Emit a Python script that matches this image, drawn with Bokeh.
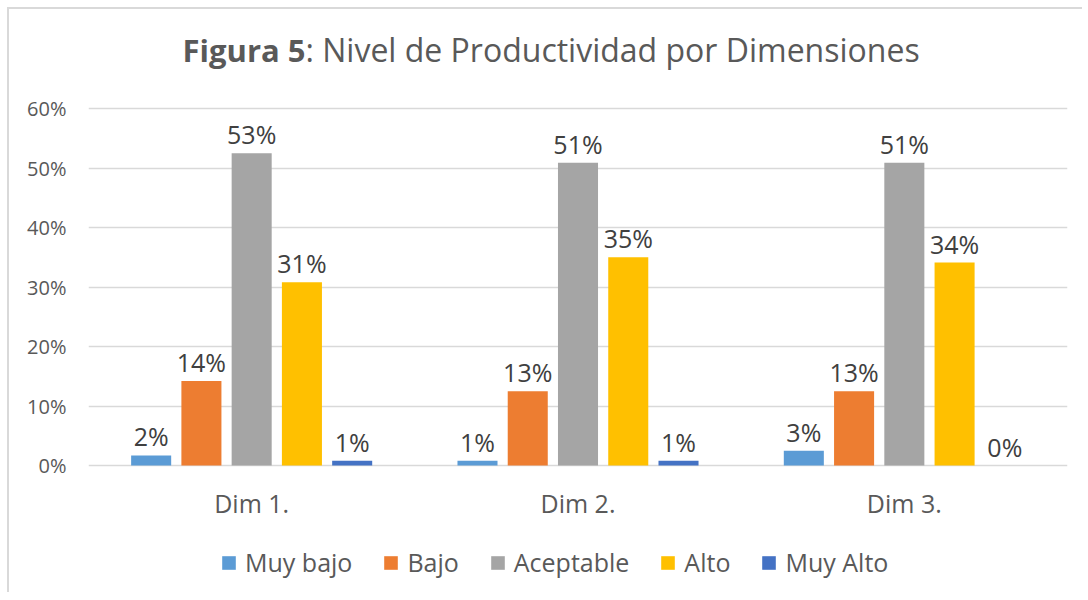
from bokeh.plotting import figure
from bokeh.models import (ColumnDataSource, FactorRange, FixedTicker, PrintfTickFormatter,
                          Label, Legend, LegendItem)
from bokeh.transform import dodge
from bokeh.core.properties import value
from bokeh.embed import file_html
from bokeh.resources import INLINE

dims = ["Dim 1.", "Dim 2.", "Dim 3."]
series = ["Muy bajo", "Bajo", "Aceptable", "Alto", "Muy Alto"]
muy_bajo = [1.7, 0.8, 2.5]
bajo = [14.2, 12.5, 12.5]
aceptable = [52.5, 50.9, 50.9]
alto = [30.8, 35.0, 34.1]
muy_alto = [0.8, 0.8, 0.0]
colors = ["#5B9BD5", "#ED7D31", "#A5A5A5", "#FFC000", "#4472C4"]
y_ticks = [0, 10, 20, 30, 40, 50, 60]

FONT = "Open Sans"
W, H = 1075, 585
OFF = 9                       # css margin + border
FRAME_L, FRAME_R = 88, 1067   # page px
Y0_PX, Y60_PX = 465, 108      # page px of 0% and 60%
px_per_unit = (Y0_PX - Y60_PX) / 60.0
frame_top, frame_bot = OFF, OFF + H
y_top = (Y0_PX - frame_top) / px_per_unit
y_bot = -(frame_bot - Y0_PX) / px_per_unit

p = figure(x_range=FactorRange(factors=dims), y_range=(y_bot, y_top),
           width=W, height=H, output_backend="svg", toolbar_location=None,
           min_border_left=FRAME_L - OFF, min_border_right=W - (FRAME_R - OFF),
           min_border_top=0, min_border_bottom=0)
p.styles = {"border-top": "2px solid #d9d9d9", "border-left": "2px solid #d9d9d9",
            "margin-top": "7px", "margin-left": "7px"}
p.outline_line_color = None
p.xgrid.grid_line_color = None
p.ygrid.grid_line_color = "#d9d9d9"
p.ygrid.grid_line_width = 1.5

p.yaxis.ticker = FixedTicker(ticks=y_ticks)
p.yaxis.formatter = PrintfTickFormatter(format="%d%%")
for ax in (p.xaxis, p.yaxis):
    ax.axis_line_color = None
    ax.major_tick_line_color = None
    ax.minor_tick_line_color = None
    ax.major_tick_out = 0
    ax.major_label_text_font = FONT
    ax.major_label_text_color = "#595959"
p.xaxis.fixed_location = 0
p.yaxis.major_label_text_font_size = "20px"
p.yaxis.major_label_standoff = 22
p.xaxis.major_label_text_font_size = "25px"
p.xaxis.major_label_standoff = 20

offsets = [-0.308, -0.154, 0.0, 0.154, 0.308]
data = [muy_bajo, bajo, aceptable, alto, muy_alto]
items = []
for name, vals, col, off in zip(series, data, colors, offsets):
    lbls = [f"{int(v + 0.5)}%" for v in vals]
    src = ColumnDataSource(dict(dim=dims, val=vals, lbl=lbls))
    r = p.vbar(x=dodge("dim", off, range=p.x_range), top="val", width=0.1227,
               source=src, fill_color=col, line_color=None)
    p.text(x=dodge("dim", off, range=p.x_range), y="val", text="lbl", source=src,
           y_offset=-19, text_align="center", text_baseline="alphabetic",
           text_font=value(FONT), text_font_size="25px", text_color="#404040")
    items.append(LegendItem(label=name, renderers=[r]))

legend = Legend(items=items, orientation="horizontal", location=(220 - FRAME_L, 15),
                glyph_width=17, glyph_height=17, label_standoff=8, spacing=30,
                padding=0, margin=0, border_line_color=None, background_fill_alpha=0,
                label_text_font=FONT, label_text_font_size="25px", label_text_color="#595959")
p.add_layout(legend, "center")

title_x = 305 - FRAME_L
title_y = frame_bot - 49
t1 = Label(x=title_x, y=title_y, x_units="screen", y_units="screen", text="Figura 5",
           text_align="right", text_baseline="alphabetic", text_font=FONT,
           text_font_size="31px", text_font_style="bold", text_color="#595959")
t2 = Label(x=title_x, y=title_y, x_units="screen", y_units="screen",
           text=": Nivel de Productividad por Dimensiones",
           text_align="left", text_baseline="alphabetic", text_font=FONT,
           text_font_size="32px", text_color="#595959")
p.add_layout(t1)
p.add_layout(t2)

open("out.html", "w").write(file_html(p, INLINE))
